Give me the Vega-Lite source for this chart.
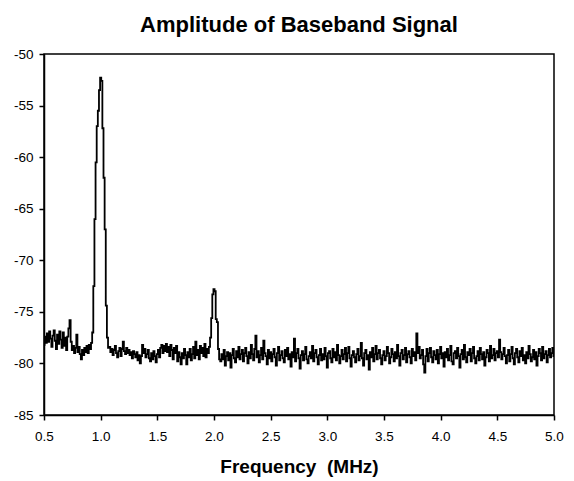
{
  "$schema": "https://vega.github.io/schema/vega-lite/v6.json",
  "width": 510,
  "height": 361,
  "autosize": "none",
  "padding": {"left": 44, "top": 54, "right": 20, "bottom": 66},
  "title": {
    "text": "Amplitude of Baseband Signal",
    "font": "Liberation Sans",
    "fontSize": 22,
    "fontWeight": "bold",
    "color": "#000",
    "anchor": "middle",
    "offset": 10
  },
  "config": {
    "view": {"stroke": "#000", "strokeWidth": 1.5},
    "axis": {
      "grid": false,
      "domainColor": "#000",
      "domainWidth": 1.5,
      "tickColor": "#000",
      "tickWidth": 1.5,
      "tickSize": 5,
      "labelFont": "Liberation Sans",
      "labelFontSize": 13.5,
      "labelColor": "#000",
      "titleFont": "Liberation Sans",
      "titleFontSize": 19,
      "titleFontWeight": "bold",
      "titleColor": "#000"
    }
  },
  "data": {
    "values": [
      {"f":0.50,"a":-78.2},{"f":0.51,"a":-77.4},{"f":0.52,"a":-78.0},{"f":0.53,"a":-77.1},{"f":0.54,"a":-77.9},
      {"f":0.55,"a":-76.9},{"f":0.56,"a":-77.6},{"f":0.57,"a":-78.4},{"f":0.58,"a":-77.3},{"f":0.59,"a":-76.8},
      {"f":0.60,"a":-77.8},{"f":0.61,"a":-78.6},{"f":0.62,"a":-77.2},{"f":0.63,"a":-78.1},{"f":0.64,"a":-76.9},
      {"f":0.65,"a":-77.7},{"f":0.66,"a":-78.5},{"f":0.67,"a":-77.0},{"f":0.68,"a":-78.3},{"f":0.69,"a":-77.5},
      {"f":0.70,"a":-78.7},{"f":0.71,"a":-77.4},{"f":0.72,"a":-76.6},{"f":0.73,"a":-75.8},{"f":0.74,"a":-77.9},
      {"f":0.75,"a":-78.7},{"f":0.76,"a":-78.3},{"f":0.77,"a":-79.0},{"f":0.78,"a":-78.5},{"f":0.79,"a":-77.2},
      {"f":0.80,"a":-78.9},{"f":0.81,"a":-78.4},{"f":0.82,"a":-79.1},{"f":0.83,"a":-79.6},{"f":0.84,"a":-78.7},
      {"f":0.85,"a":-79.2},{"f":0.86,"a":-78.5},{"f":0.87,"a":-78.9},{"f":0.88,"a":-78.3},{"f":0.89,"a":-79.0},
      {"f":0.90,"a":-78.2},{"f":0.91,"a":-78.6},{"f":0.92,"a":-78.0},
      {"f":0.93,"a":-77.0},{"f":0.94,"a":-72.5},{"f":0.95,"a":-66.0},{"f":0.96,"a":-60.5},{"f":0.97,"a":-57.0},
      {"f":0.98,"a":-55.5},{"f":0.99,"a":-53.5},{"f":1.00,"a":-52.3},{"f":1.01,"a":-52.6},{"f":1.02,"a":-57.2},
      {"f":1.03,"a":-62.0},{"f":1.04,"a":-67.0},{"f":1.05,"a":-74.4},{"f":1.06,"a":-77.5},{"f":1.07,"a":-78.5},
      {"f":1.08,"a":-78.4},{"f":1.09,"a":-78.9},{"f":1.10,"a":-78.6},{"f":1.11,"a":-79.2},{"f":1.12,"a":-78.7},
      {"f":1.13,"a":-78.3},{"f":1.14,"a":-79.0},{"f":1.15,"a":-79.4},{"f":1.16,"a":-78.8},{"f":1.17,"a":-78.5},
      {"f":1.18,"a":-79.3},{"f":1.19,"a":-78.6},{"f":1.20,"a":-77.9},{"f":1.21,"a":-78.8},{"f":1.22,"a":-79.1},
      {"f":1.23,"a":-78.5},{"f":1.24,"a":-79.0},{"f":1.25,"a":-78.7},{"f":1.26,"a":-79.2},{"f":1.27,"a":-78.9},
      {"f":1.28,"a":-79.5},{"f":1.29,"a":-78.8},{"f":1.30,"a":-79.1},{"f":1.31,"a":-79.4},{"f":1.32,"a":-78.9},
      {"f":1.33,"a":-79.7},{"f":1.34,"a":-79.2},{"f":1.35,"a":-80.0},{"f":1.36,"a":-79.3},{"f":1.37,"a":-78.2},
      {"f":1.38,"a":-79.0},{"f":1.39,"a":-78.6},{"f":1.40,"a":-79.4},{"f":1.41,"a":-79.1},{"f":1.42,"a":-78.7},
      {"f":1.43,"a":-79.5},{"f":1.44,"a":-79.8},{"f":1.45,"a":-79.0},{"f":1.46,"a":-79.6},{"f":1.47,"a":-78.8},
      {"f":1.48,"a":-79.3},{"f":1.49,"a":-79.9},{"f":1.50,"a":-79.1},{"f":1.51,"a":-78.7},{"f":1.52,"a":-79.4},
      {"f":1.53,"a":-78.5},{"f":1.54,"a":-78.2},{"f":1.55,"a":-79.0},{"f":1.56,"a":-78.3},{"f":1.57,"a":-78.8},
      {"f":1.58,"a":-78.1},{"f":1.59,"a":-78.9},{"f":1.60,"a":-78.4},{"f":1.61,"a":-79.3},{"f":1.62,"a":-78.2},
      {"f":1.63,"a":-78.7},{"f":1.64,"a":-79.6},{"f":1.65,"a":-78.5},{"f":1.66,"a":-79.0},{"f":1.67,"a":-78.3},
      {"f":1.68,"a":-79.8},{"f":1.69,"a":-78.9},{"f":1.70,"a":-79.4},{"f":1.71,"a":-80.1},{"f":1.72,"a":-79.0},
      {"f":1.73,"a":-79.5},{"f":1.74,"a":-78.6},{"f":1.75,"a":-79.2},{"f":1.76,"a":-80.1},{"f":1.77,"a":-78.9},
      {"f":1.78,"a":-79.4},{"f":1.79,"a":-78.6},{"f":1.80,"a":-79.7},{"f":1.81,"a":-79.1},{"f":1.82,"a":-78.4},
      {"f":1.83,"a":-79.5},{"f":1.84,"a":-77.9},{"f":1.85,"a":-79.2},{"f":1.86,"a":-78.7},{"f":1.87,"a":-79.6},
      {"f":1.88,"a":-78.3},{"f":1.89,"a":-79.0},{"f":1.90,"a":-78.5},{"f":1.91,"a":-79.3},{"f":1.92,"a":-78.1},
      {"f":1.93,"a":-79.4},{"f":1.94,"a":-78.6},{"f":1.95,"a":-79.0},{"f":1.96,"a":-78.4},
      {"f":1.97,"a":-77.5},{"f":1.98,"a":-75.6},{"f":1.99,"a":-73.3},{"f":2.00,"a":-72.8},{"f":2.01,"a":-73.0},
      {"f":2.02,"a":-75.7},{"f":2.03,"a":-76.0},{"f":2.04,"a":-78.6},{"f":2.05,"a":-79.6},
      {"f":2.06,"a":-79.8},{"f":2.07,"a":-79.1},{"f":2.08,"a":-79.6},{"f":2.09,"a":-78.7},{"f":2.10,"a":-80.2},
      {"f":2.11,"a":-79.3},{"f":2.12,"a":-78.9},{"f":2.13,"a":-79.7},{"f":2.14,"a":-79.0},{"f":2.15,"a":-80.4},
      {"f":2.16,"a":-79.2},{"f":2.17,"a":-78.6},{"f":2.18,"a":-79.5},{"f":2.19,"a":-79.9},{"f":2.20,"a":-78.8},
      {"f":2.21,"a":-79.4},{"f":2.22,"a":-78.4},{"f":2.23,"a":-79.6},{"f":2.24,"a":-79.1},{"f":2.25,"a":-78.7},
      {"f":2.26,"a":-79.8},{"f":2.27,"a":-79.0},{"f":2.28,"a":-78.5},{"f":2.29,"a":-79.3},{"f":2.30,"a":-80.0},
      {"f":2.31,"a":-78.9},{"f":2.32,"a":-79.5},{"f":2.33,"a":-78.2},{"f":2.34,"a":-79.1},{"f":2.35,"a":-79.7},
      {"f":2.36,"a":-78.6},{"f":2.37,"a":-77.3},{"f":2.38,"a":-79.4},{"f":2.39,"a":-78.8},{"f":2.40,"a":-79.9},
      {"f":2.41,"a":-79.2},{"f":2.42,"a":-78.5},{"f":2.43,"a":-79.6},{"f":2.44,"a":-77.8},{"f":2.45,"a":-79.0},
      {"f":2.46,"a":-79.3},{"f":2.47,"a":-80.1},{"f":2.48,"a":-78.7},{"f":2.49,"a":-79.5},{"f":2.50,"a":-78.9},
      {"f":2.51,"a":-79.8},{"f":2.52,"a":-79.1},{"f":2.53,"a":-78.6},{"f":2.54,"a":-79.4},{"f":2.55,"a":-80.2},
      {"f":2.56,"a":-79.0},{"f":2.57,"a":-78.4},{"f":2.58,"a":-79.7},{"f":2.59,"a":-79.2},{"f":2.60,"a":-78.8},
      {"f":2.61,"a":-79.5},{"f":2.62,"a":-79.9},{"f":2.63,"a":-78.7},{"f":2.64,"a":-79.3},{"f":2.65,"a":-78.5},
      {"f":2.66,"a":-79.6},{"f":2.67,"a":-79.1},{"f":2.68,"a":-80.3},{"f":2.69,"a":-78.9},{"f":2.70,"a":-79.4},
      {"f":2.71,"a":-77.6},{"f":2.72,"a":-79.8},{"f":2.73,"a":-79.0},{"f":2.74,"a":-78.6},{"f":2.75,"a":-79.5},
      {"f":2.76,"a":-80.5},{"f":2.77,"a":-79.2},{"f":2.78,"a":-78.8},{"f":2.79,"a":-79.7},{"f":2.80,"a":-79.1},
      {"f":2.81,"a":-78.4},{"f":2.82,"a":-79.6},{"f":2.83,"a":-80.0},{"f":2.84,"a":-79.3},{"f":2.85,"a":-78.9},
      {"f":2.86,"a":-79.5},{"f":2.87,"a":-78.3},{"f":2.88,"a":-79.8},{"f":2.89,"a":-79.0},{"f":2.90,"a":-78.7},
      {"f":2.91,"a":-79.4},{"f":2.92,"a":-80.1},{"f":2.93,"a":-79.2},{"f":2.94,"a":-78.6},{"f":2.95,"a":-79.7},
      {"f":2.96,"a":-79.1},{"f":2.97,"a":-79.6},{"f":2.98,"a":-78.5},{"f":2.99,"a":-79.3},{"f":3.00,"a":-80.4},
      {"f":3.01,"a":-79.0},{"f":3.02,"a":-78.8},{"f":3.03,"a":-79.5},{"f":3.04,"a":-79.9},{"f":3.05,"a":-78.6},
      {"f":3.06,"a":-79.4},{"f":3.07,"a":-78.9},{"f":3.08,"a":-79.7},{"f":3.09,"a":-78.2},{"f":3.10,"a":-79.2},
      {"f":3.11,"a":-80.0},{"f":3.12,"a":-79.3},{"f":3.13,"a":-78.7},{"f":3.14,"a":-79.6},{"f":3.15,"a":-79.1},
      {"f":3.16,"a":-78.5},{"f":3.17,"a":-79.8},{"f":3.18,"a":-79.0},{"f":3.19,"a":-78.4},{"f":3.20,"a":-79.5},
      {"f":3.21,"a":-80.3},{"f":3.22,"a":-79.2},{"f":3.23,"a":-78.8},{"f":3.24,"a":-79.4},{"f":3.25,"a":-79.9},
      {"f":3.26,"a":-79.1},{"f":3.27,"a":-78.6},{"f":3.28,"a":-79.7},{"f":3.29,"a":-79.3},{"f":3.30,"a":-78.0},
      {"f":3.31,"a":-79.5},{"f":3.32,"a":-80.2},{"f":3.33,"a":-79.0},{"f":3.34,"a":-78.7},{"f":3.35,"a":-79.6},
      {"f":3.36,"a":-79.2},{"f":3.37,"a":-80.6},{"f":3.38,"a":-78.9},{"f":3.39,"a":-79.4},{"f":3.40,"a":-78.5},
      {"f":3.41,"a":-79.8},{"f":3.42,"a":-79.1},{"f":3.43,"a":-78.3},{"f":3.44,"a":-79.6},{"f":3.45,"a":-79.0},
      {"f":3.46,"a":-78.7},{"f":3.47,"a":-79.5},{"f":3.48,"a":-80.1},{"f":3.49,"a":-79.2},{"f":3.50,"a":-78.8},
      {"f":3.51,"a":-79.7},{"f":3.52,"a":-79.3},{"f":3.53,"a":-78.4},{"f":3.54,"a":-79.0},{"f":3.55,"a":-80.0},
      {"f":3.56,"a":-79.4},{"f":3.57,"a":-78.6},{"f":3.58,"a":-79.1},{"f":3.59,"a":-79.8},{"f":3.60,"a":-78.9},
      {"f":3.61,"a":-79.5},{"f":3.62,"a":-78.2},{"f":3.63,"a":-79.3},{"f":3.64,"a":-80.2},{"f":3.65,"a":-79.0},
      {"f":3.66,"a":-78.7},{"f":3.67,"a":-79.6},{"f":3.68,"a":-79.2},{"f":3.69,"a":-78.5},{"f":3.70,"a":-79.9},
      {"f":3.71,"a":-79.1},{"f":3.72,"a":-78.8},{"f":3.73,"a":-79.4},{"f":3.74,"a":-80.0},{"f":3.75,"a":-78.6},
      {"f":3.76,"a":-79.3},{"f":3.77,"a":-78.9},{"f":3.78,"a":-79.7},{"f":3.79,"a":-77.1},{"f":3.80,"a":-79.0},
      {"f":3.81,"a":-78.4},{"f":3.82,"a":-79.5},{"f":3.83,"a":-79.2},{"f":3.84,"a":-78.7},{"f":3.85,"a":-80.1},
      {"f":3.86,"a":-80.9},{"f":3.87,"a":-79.3},{"f":3.88,"a":-78.6},{"f":3.89,"a":-79.8},{"f":3.90,"a":-79.0},
      {"f":3.91,"a":-78.5},{"f":3.92,"a":-79.4},{"f":3.93,"a":-79.9},{"f":3.94,"a":-78.8},{"f":3.95,"a":-79.2},
      {"f":3.96,"a":-79.6},{"f":3.97,"a":-78.7},{"f":3.98,"a":-80.0},{"f":3.99,"a":-79.1},{"f":4.00,"a":-78.4},
      {"f":4.01,"a":-79.5},{"f":4.02,"a":-79.0},{"f":4.03,"a":-80.3},{"f":4.04,"a":-78.9},{"f":4.05,"a":-79.4},
      {"f":4.06,"a":-78.6},{"f":4.07,"a":-79.7},{"f":4.08,"a":-79.2},{"f":4.09,"a":-78.3},{"f":4.10,"a":-79.8},
      {"f":4.11,"a":-80.1},{"f":4.12,"a":-79.0},{"f":4.13,"a":-78.8},{"f":4.14,"a":-79.5},{"f":4.15,"a":-78.5},
      {"f":4.16,"a":-79.3},{"f":4.17,"a":-80.4},{"f":4.18,"a":-79.1},{"f":4.19,"a":-78.7},{"f":4.20,"a":-79.6},
      {"f":4.21,"a":-78.2},{"f":4.22,"a":-79.4},{"f":4.23,"a":-79.9},{"f":4.24,"a":-78.9},{"f":4.25,"a":-79.2},
      {"f":4.26,"a":-78.6},{"f":4.27,"a":-79.8},{"f":4.28,"a":-79.0},{"f":4.29,"a":-78.4},{"f":4.30,"a":-79.5},
      {"f":4.31,"a":-80.0},{"f":4.32,"a":-79.3},{"f":4.33,"a":-78.8},{"f":4.34,"a":-79.7},{"f":4.35,"a":-78.5},
      {"f":4.36,"a":-79.1},{"f":4.37,"a":-79.6},{"f":4.38,"a":-78.9},{"f":4.39,"a":-80.2},{"f":4.40,"a":-79.4},
      {"f":4.41,"a":-78.7},{"f":4.42,"a":-79.0},{"f":4.43,"a":-79.8},{"f":4.44,"a":-78.3},{"f":4.45,"a":-79.5},
      {"f":4.46,"a":-79.2},{"f":4.47,"a":-78.6},{"f":4.48,"a":-79.7},{"f":4.49,"a":-79.0},{"f":4.50,"a":-78.8},
      {"f":4.51,"a":-79.4},{"f":4.52,"a":-77.7},{"f":4.53,"a":-78.9},{"f":4.54,"a":-79.6},{"f":4.55,"a":-79.1},
      {"f":4.56,"a":-78.5},{"f":4.57,"a":-79.3},{"f":4.58,"a":-80.0},{"f":4.59,"a":-79.2},{"f":4.60,"a":-78.7},
      {"f":4.61,"a":-79.8},{"f":4.62,"a":-79.1},{"f":4.63,"a":-78.4},{"f":4.64,"a":-79.5},{"f":4.65,"a":-80.1},
      {"f":4.66,"a":-79.0},{"f":4.67,"a":-78.6},{"f":4.68,"a":-79.4},{"f":4.69,"a":-79.9},{"f":4.70,"a":-78.8},
      {"f":4.71,"a":-79.3},{"f":4.72,"a":-78.5},{"f":4.73,"a":-79.7},{"f":4.74,"a":-79.2},{"f":4.75,"a":-80.0},
      {"f":4.76,"a":-78.9},{"f":4.77,"a":-79.5},{"f":4.78,"a":-78.3},{"f":4.79,"a":-79.1},{"f":4.80,"a":-79.8},
      {"f":4.81,"a":-79.4},{"f":4.82,"a":-78.7},{"f":4.83,"a":-79.6},{"f":4.84,"a":-78.9},{"f":4.85,"a":-80.2},
      {"f":4.86,"a":-79.3},{"f":4.87,"a":-78.6},{"f":4.88,"a":-79.0},{"f":4.89,"a":-79.7},{"f":4.90,"a":-78.4},
      {"f":4.91,"a":-79.5},{"f":4.92,"a":-79.1},{"f":4.93,"a":-78.8},{"f":4.94,"a":-79.9},{"f":4.95,"a":-79.2},
      {"f":4.96,"a":-78.6},{"f":4.97,"a":-79.4},{"f":4.98,"a":-79.0},{"f":4.99,"a":-78.5},{"f":5.00,"a":-79.3}
    ]
  },
  "mark": {"type": "line", "interpolate": "step", "color": "#000", "strokeWidth": 1.8, "clip": true},
  "encoding": {
    "x": {
      "field": "f",
      "type": "quantitative",
      "scale": {"domain": [0.5, 5], "nice": false, "zero": false},
      "axis": {
        "title": "Frequency\u00a0\u00a0(MHz)",
        "values": [0.5, 1, 1.5, 2, 2.5, 3, 3.5, 4, 4.5, 5],
        "format": ".1f",
        "labelPadding": 9,
        "titlePadding": 15,
        "labelFlush": false
      }
    },
    "y": {
      "field": "a",
      "type": "quantitative",
      "scale": {"domain": [-85, -50], "nice": false, "zero": false},
      "axis": {
        "title": null,
        "values": [-85, -80, -75, -70, -65, -60, -55, -50],
        "labelExpr": "replace(datum.label, '\u2212', '-')",
        "labelPadding": 6
      }
    }
  }
}
